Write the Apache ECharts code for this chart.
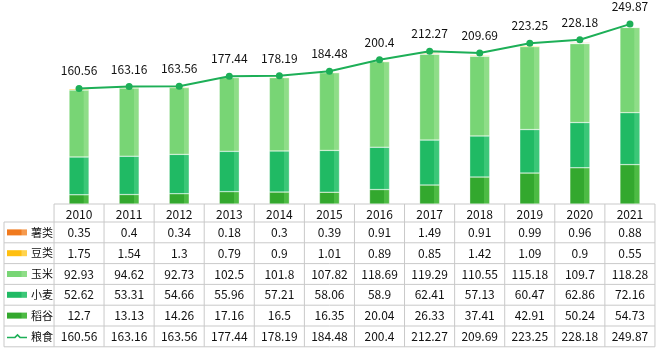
<!DOCTYPE html>
<html>
<head>
<meta charset="utf-8">
<script src="https://cdn.jsdelivr.net/npm/echarts@6/dist/echarts.min.js"></script>
<style>
  html, body { margin: 0; padding: 0; background: #fff; }
  #chart { width: 660px; height: 353px; }
</style>
</head>
<body>
<div id="chart"></div>
<script>
// 年份
const years = ['2010', '2011', '2012', '2013', '2014', '2015', '2016', '2017', '2018', '2019', '2020', '2021'];
// 各品种数据
const shuLei = [0.35, 0.4, 0.34, 0.18, 0.3, 0.39, 0.91, 1.49, 0.91, 0.99, 0.96, 0.88];
const douLei = [1.75, 1.54, 1.3, 0.79, 0.9, 1.01, 0.89, 0.85, 1.42, 1.09, 0.9, 0.55];
const yuMi = [92.93, 94.62, 92.73, 102.5, 101.8, 107.82, 118.69, 119.29, 110.55, 115.18, 109.7, 118.28];
const xiaoMai = [52.62, 53.31, 54.66, 55.96, 57.21, 58.06, 58.9, 62.41, 57.13, 60.47, 62.86, 72.16];
const daoGu = [12.7, 13.13, 14.26, 17.16, 16.5, 16.35, 20.04, 26.33, 37.41, 42.91, 50.24, 54.73];
const liangShi = [160.56, 163.16, 163.56, 177.44, 178.19, 184.48, 200.4, 212.27, 209.69, 223.25, 228.18, 249.87];

const FONT = '"Noto Sans CJK SC", "Noto Sans", sans-serif';

// 柱子颜色（左侧主色，右侧亮色模拟立体）
function barColor(main, side) {
    return new echarts.graphic.LinearGradient(0, 0, 1, 0, [
        { offset: 0, color: main },
        { offset: 0.72, color: main },
        { offset: 0.73, color: side },
        { offset: 1, color: side }
    ]);
}

const seriesDefs = [
    { name: '稻谷', data: daoGu, main: '#33A82E', side: '#4DBB44' },
    { name: '小麦', data: xiaoMai, main: '#20BA64', side: '#3CC778' },
    { name: '玉米', data: yuMi, main: '#78D575', side: '#8FDD88' },
    { name: '豆类', data: douLei, main: '#FFBF10', side: '#FFD34E' },
    { name: '薯类', data: shuLei, main: '#F07A1E', side: '#F59A4E' }
];

const chart = echarts.init(document.getElementById('chart'));

const series = seriesDefs.map(s => ({
    name: s.name,
    type: 'bar',
    stack: 'total',
    barWidth: 20,
    data: s.data,
    itemStyle: {
        color: barColor(s.main, s.side),
        borderColor: 'rgba(255,255,255,0.35)',
        borderWidth: 0.5
    },
    silent: true
}));

series.push({
    name: '粮食',
    type: 'line',
    data: liangShi,
    symbol: 'circle',
    symbolSize: 7,
    lineStyle: { color: '#1DAF57', width: 2 },
    itemStyle: { color: '#1DAF57' },
    label: {
        show: true,
        position: 'top',
        distance: 8,
        color: '#111',
        fontSize: 12,
        fontFamily: FONT
    },
    z: 5
});

chart.setOption({
    animation: false,
    grid: { left: 54, right: 5, top: 24, bottom: 149 },
    xAxis: {
        type: 'category',
        data: years,
        show: false
    },
    yAxis: {
        type: 'value',
        min: 0,
        max: 250,
        show: false
    },
    series: series
});

// 数据表格
const tableTop = 204;
const headH = 18;
const rowH = 20.8;
const colW = 50;
const lineColor = '#C9C9C9';
const rows = [
    { name: '薯类', data: shuLei, color: '#F07A1E', side: '#F59A4E' },
    { name: '豆类', data: douLei, color: '#FFBF10', side: '#FFD34E' },
    { name: '玉米', data: yuMi, color: '#78D575', side: '#8FDD88' },
    { name: '小麦', data: xiaoMai, color: '#20BA64', side: '#3CC778' },
    { name: '稻谷', data: daoGu, color: '#33A82E', side: '#4DBB44' },
    { name: '粮食', data: liangShi, line: true, color: '#1DAF57' }
];

const graphics = [];
const xs = years.map((y, i) => chart.convertToPixel({ xAxisIndex: 0 }, i));
const leftX = xs[0] - colW / 2;
const rightX = xs[xs.length - 1] + colW / 2;
const bottomY = tableTop + headH + rowH * rows.length;

function hLine(x1, x2, y) {
    graphics.push({ type: 'line', shape: { x1: x1, y1: y, x2: x2, y2: y }, style: { stroke: lineColor, lineWidth: 1 }, silent: true });
}
function vLine(x, y1, y2) {
    graphics.push({ type: 'line', shape: { x1: x, y1: y1, x2: x, y2: y2 }, style: { stroke: lineColor, lineWidth: 1 }, silent: true });
}

hLine(leftX, rightX, tableTop);
for (let r = 0; r <= rows.length; r++) {
    hLine(4, rightX, tableTop + headH + rowH * r);
}
vLine(4, tableTop + headH, bottomY);
vLine(leftX, tableTop, bottomY);
for (let i = 0; i < years.length; i++) {
    vLine(xs[i] + colW / 2, tableTop, bottomY);
    graphics.push({
        type: 'text', silent: true,
        style: { text: years[i], x: xs[i], y: tableTop + headH / 2 + 1, align: 'center', verticalAlign: 'middle', fill: '#111', font: '12px ' + FONT }
    });
}

rows.forEach((row, r) => {
    const cy = tableTop + headH + rowH * r + rowH / 2;
    if (row.line) {
        graphics.push({ type: 'polyline', silent: true, shape: { points: [[7, cy + 1], [15, cy + 1], [17.5, cy - 1.5], [20, cy + 1], [27, cy + 1]] }, style: { stroke: row.color, lineWidth: 1.5, fill: null } });
    } else {
        graphics.push({ type: 'rect', silent: true, shape: { x: 7, y: cy - 3, width: 20, height: 6 }, style: { fill: barColor(row.color, row.side) } });
    }
    graphics.push({
        type: 'text', silent: true,
        style: { text: row.name, x: 31, y: cy, align: 'left', verticalAlign: 'middle', fill: '#111', font: '11px ' + FONT }
    });
    row.data.forEach((v, i) => {
        graphics.push({
            type: 'text', silent: true,
            style: { text: String(v), x: xs[i], y: cy, align: 'center', verticalAlign: 'middle', fill: '#111', font: '12px ' + FONT }
        });
    });
});

chart.setOption({ graphic: graphics });
</script>
</body>
</html>
